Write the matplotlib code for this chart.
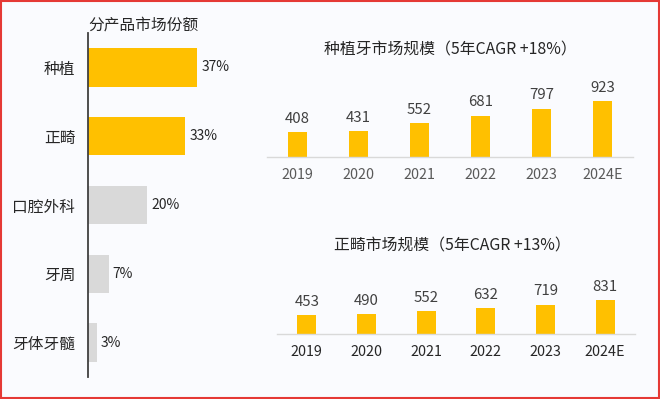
import matplotlib.pyplot as plt
from matplotlib.patches import Rectangle

plt.rcParams['font.family'] = ['Noto Sans CJK SC', 'DejaVu Sans']

# 分产品市场份额
share_cats = ['种植', '正畸', '口腔外科', '牙周', '牙体牙髓']
share_vals = [37, 33, 20, 7, 3]
share_colors = ['#FFC000', '#FFC000', '#D9D9D9', '#D9D9D9', '#D9D9D9']

years = ['2019', '2020', '2021', '2022', '2023', '2024E']
implant_vals = [408, 431, 552, 681, 797, 923]
ortho_vals = [453, 490, 552, 632, 719, 831]

W, H = 660, 399
fig = plt.figure(figsize=(6.6, 3.99), dpi=100)
fig.patch.set_facecolor('#FAFBFE')

def box(x0, y0, x1, y1):
    # 像素坐标 -> figure 坐标
    return [x0 / W, 1 - y1 / H, (x1 - x0) / W, (y1 - y0) / H]

# 左侧横向条形图
ax1 = fig.add_axes(box(88, 33, 260, 377))
ax1.set_facecolor('none')
ax1.barh(range(len(share_cats)), share_vals, height=0.56, color=share_colors)
ax1.set_ylim(4.5, -0.5)
ax1.set_xlim(0, 58.3)
ax1.set_yticks(range(len(share_cats)))
ax1.set_yticklabels(share_cats, fontsize=11.3, color='#262626')
ax1.tick_params(axis='y', length=0, pad=9)
ax1.set_xticks([])
for s in ['top', 'right', 'bottom']:
    ax1.spines[s].set_visible(False)
ax1.spines['left'].set_color('#404040')
ax1.spines['left'].set_linewidth(1.3)
for i, v in enumerate(share_vals):
    ax1.annotate(f'{v}%', (v, i), xytext=(3, 0), textcoords='offset points',
                 va='center', ha='left', fontsize=10, color='#262626')
fig.text(88 / W, 1 - 25 / H, '分产品市场份额', fontsize=11.3, color='#262626',
         ha='left', va='center')


def column_chart(rect, vals, ymax, width, title, title_xy, year_color):
    ax = fig.add_axes(rect)
    ax.set_facecolor('none')
    ax.bar(range(len(years)), vals, width=width, color='#FFC000')
    ax.set_xlim(-0.5, len(years) - 0.5)
    ax.set_ylim(0, ymax)
    ax.set_xticks(range(len(years)))
    ax.set_xticklabels(years, fontsize=10.3, color=year_color)
    ax.tick_params(axis='x', length=0, pad=8)
    ax.set_yticks([])
    for s in ['top', 'right', 'left']:
        ax.spines[s].set_visible(False)
    ax.spines['bottom'].set_color('#D9D9D9')
    ax.spines['bottom'].set_linewidth(1.0)
    for i, v in enumerate(vals):
        ax.annotate(str(v), (i, v), xytext=(0, 9.5), textcoords='offset points',
                    va='center', ha='center', fontsize=10.8, color='#404040')
    fig.text(title_xy[0] / W, 1 - title_xy[1] / H, title, fontsize=11.4,
             color='#262626', ha='center', va='center')
    return ax


column_chart(box(267, 77, 633, 157), implant_vals, 1318, 0.3,
             '种植牙市场规模（5年CAGR +18%）', (450, 50), '#595959')
column_chart(box(277, 274, 635, 334), ortho_vals, 1467, 0.32,
             '正畸市场规模（5年CAGR +13%）', (452, 246), '#262626')

# 红色边框
fig.patches.append(Rectangle((0.002, 0.003), 0.996, 0.994, transform=fig.transFigure,
                             fill=False, edgecolor='#E53935', linewidth=1.5))

fig.savefig('out.png', dpi=100, facecolor=fig.get_facecolor())
